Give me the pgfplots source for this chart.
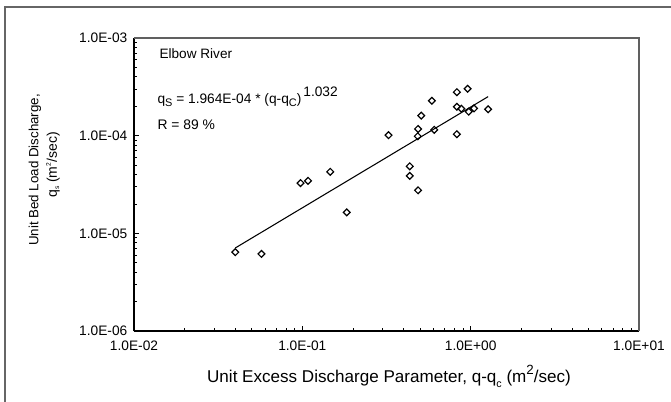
\documentclass[border=0pt]{standalone}
\usepackage{fontspec}
\setmainfont{Liberation Sans}
\usepackage{pgfplots}
\pgfplotsset{compat=1.18}

\pgfplotstableread{
x       y
0.0400  6.42e-6
0.0572  6.15e-6
0.0976  3.27e-5
0.1081  3.45e-5
0.1465  4.27e-5
0.1836  1.64e-5
0.3253  1.012e-4
0.4346  4.86e-5
0.4346  3.87e-5
0.4868  2.76e-5
0.4850  9.86e-5
0.4868  1.171e-4
0.5087  1.602e-4
0.5880  2.277e-4
0.6077  1.149e-4
0.8280  2.79e-4
0.9590  3.02e-4
0.8280  1.976e-4
0.8800  1.89e-4
0.9740  1.76e-4
1.0470  1.90e-4
1.2690  1.863e-4
0.8280  1.036e-4
}\elbow

\pgfplotstableread{
x       y
0.0400  7.09e-6
1.2690  2.51e-4
}\fitline

\begin{document}
\begin{tikzpicture}
\path[use as bounding box] (0,0) rectangle (503.25pt,-301.5pt);
% chart frame, cropped at right and bottom
\begin{scope}[x=0.75pt,y=-0.75pt]
  \draw[gray!80!black, line width=0.9pt] (5,7) rectangle (700,430);
\end{scope}

\begin{axis}[
  at={(100.5pt,-248.25pt)}, anchor=south west,
  scale only axis, width=378.75pt, height=219.75pt,
  xmode=log, ymode=log,
  xmin=0.01, xmax=10, ymin=1e-6, ymax=1e-3,
  axis x line*=bottom, axis y line*=left,
  x axis line style={-, line width=1.3pt},
  y axis line style={-, line width=0.8pt},
  tick align=inside,
  major tick length=3.75pt, minor tick length=2.5pt,
  tick style={black, line width=0.6pt},
  xtick={0.01,0.1,1,10},
  xticklabels={1.0E-02,1.0E-01,1.0E+00,1.0E+01},
  ytick={1e-6,1e-5,1e-4,1e-3},
  yticklabels={1.0E-06,1.0E-05,1.0E-04,1.0E-03},
  xticklabel style={font=\fontsize{10.3}{12}\selectfont, yshift=-4pt},
  yticklabel style={font=\fontsize{10.3}{12}\selectfont, xshift=-1.5pt},
  clip=false,
]
\draw[gray!75!black, line width=1pt] (rel axis cs:0,1) -- (rel axis cs:1,1) -- (rel axis cs:1,0);
\addplot[black, line width=0.8pt, no marks] table {\fitline};
\addplot[only marks, mark=square, mark size=1.8pt,
  mark options={rotate=45, black, line width=0.9pt, fill=white}] table {\elbow};
\end{axis}

\begin{scope}[x=0.75pt,y=-0.75pt, every node/.style={inner sep=0pt}]
  \node[anchor=base west, font=\fontsize{10.2}{12}\selectfont] at (159.3,58.3) {Elbow River};
  \node[anchor=base west, font=\fontsize{10.3}{12}\selectfont] at (157.3,103.3)
    {q\raisebox{-0.45ex}{\fontsize{8.2}{9}\selectfont S} = 1.964E-04 * (q-q\raisebox{-0.45ex}{\fontsize{8.2}{9}\selectfont C})\kern1.5pt\raisebox{5pt}{1.032}};
  \node[anchor=base west, font=\fontsize{10.4}{12}\selectfont] at (157.3,129.3) {R = 89 \%};
  \node[rotate=90, font=\fontsize{10}{12}\selectfont] at (35,170) {Unit Bed Load Discharge,};
  \node[rotate=90, font=\fontsize{10.5}{12}\selectfont] at (53,165)
    {q\raisebox{-0.3ex}{\fontsize{5}{6}\selectfont s} (m\raisebox{0.8ex}{\fontsize{5}{6}\selectfont 2}/sec)};
  \node[anchor=base, font=\fontsize{12.8}{14}\selectfont] at (389,382.5)
    {Unit Excess Discharge Parameter, q-q\raisebox{-0.5ex}{\fontsize{8}{9}\selectfont c} (m\raisebox{0.9ex}{\fontsize{10}{12}\selectfont 2}/sec)};
\end{scope}
\end{tikzpicture}
\end{document}
